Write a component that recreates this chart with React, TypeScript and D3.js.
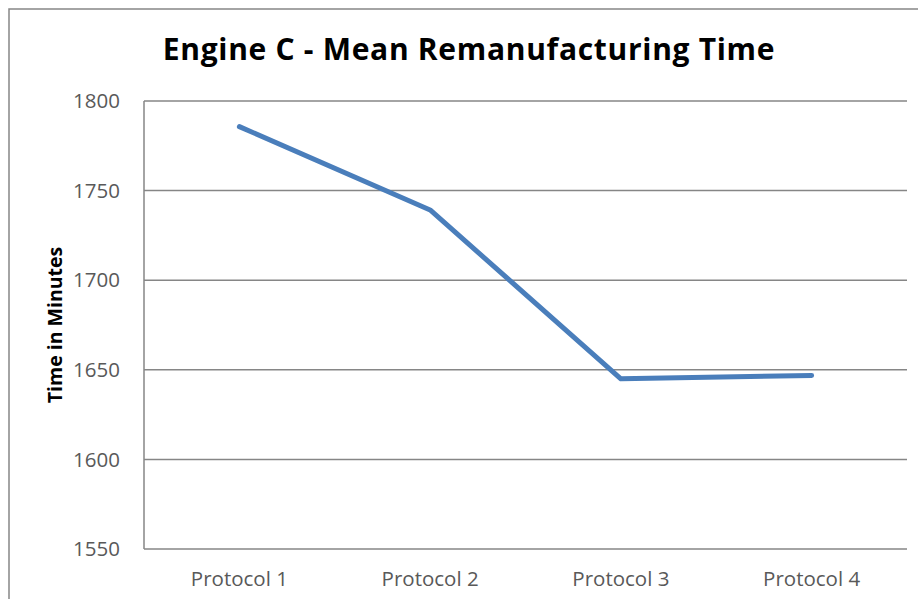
import React from "react";
import * as d3 from "d3";

const protocols = ["Protocol 1", "Protocol 2", "Protocol 3", "Protocol 4"];
const meanTime = [1785.7, 1739.2, 1645, 1646.8];
const yTicks = [1550, 1600, 1650, 1700, 1750, 1800];

const title = "Engine C - Mean Remanufacturing Time";
const yTitle = "Time in Minutes";

const App: React.FC = () => {
  const width = 918,
    height = 599;
  const plot = { left: 144, right: 907, top: 101, bottom: 549 };
  const font = "'Open Sans', 'Liberation Sans', sans-serif";

  const x = d3
    .scalePoint<string>()
    .domain(protocols)
    .range([plot.left, plot.right])
    .padding(0.5);

  const y = d3.scaleLinear().domain([1550, 1800]).range([plot.bottom, plot.top]);

  const line = d3
    .line<number>()
    .x((_, i) => x(protocols[i]) ?? 0)
    .y((d) => y(d));

  return (
    <svg
      width={width}
      height={height}
      style={{ position: "absolute", left: 0, top: 0, background: "#fff" }}
    >
      {/* chart border */}
      <rect x={9} y={9} width={940} height={620} fill="#fff" stroke="#868686" strokeWidth={1.5} />

      <text
        x={469}
        y={60}
        textAnchor="middle"
        fontFamily={font}
        fontWeight="bold"
        fontSize={30}
        letterSpacing={0.7}
        fill="#000"
      >
        {title}
      </text>

      {yTicks.map((t) => (
        <g key={t}>
          <line x1={plot.left} x2={plot.right} y1={y(t)} y2={y(t)} stroke="#868686" strokeWidth={1.5} />
          <text
            x={120}
            y={y(t)}
            dy="0.35em"
            textAnchor="end"
            fontFamily={font}
            fontSize={20.5}
            fill="#595959"
          >
            {t}
          </text>
        </g>
      ))}
      <line x1={plot.left} x2={plot.left} y1={plot.top} y2={plot.bottom} stroke="#868686" strokeWidth={1.5} />

      {protocols.map((p) => (
        <text
          key={p}
          x={x(p)}
          y={586}
          textAnchor="middle"
          fontFamily={font}
          fontSize={20.5}
          fill="#595959"
        >
          {p}
        </text>
      ))}

      <text
        transform={`translate(62,${(plot.top + plot.bottom) / 2}) rotate(-90)`}
        textAnchor="middle"
        fontFamily={font}
        fontWeight="bold"
        fontSize={19.5}
        fill="#000"
      >
        {yTitle}
      </text>

      <path
        d={line(meanTime) ?? ""}
        fill="none"
        stroke="#4A7EBB"
        strokeWidth={5}
        strokeLinejoin="round"
        strokeLinecap="round"
      />
    </svg>
  );
};

export default App;
